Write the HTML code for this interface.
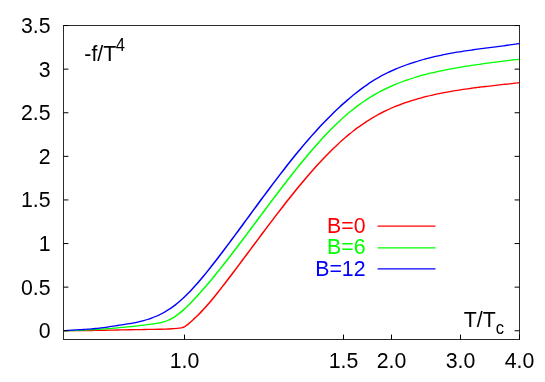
<!DOCTYPE html><html><head><meta charset="utf-8"><style>html,body{margin:0;padding:0;background:#fff}svg{display:block;will-change:transform}text{font-family:"Liberation Sans",sans-serif;}</style></head><body>
<svg width="545" height="382" viewBox="0 0 545 382">
<rect width="545" height="382" fill="#fff"/>
<path transform="scale(1 0.78)" d="M63.50 423.93C64.50 423.94 67.50 423.96 69.50 423.96C71.50 423.97 73.50 423.96 75.50 423.95C77.50 423.94 79.50 423.92 81.50 423.89C83.50 423.87 85.50 423.84 87.50 423.80C89.50 423.77 91.50 423.73 93.50 423.69C95.50 423.65 97.50 423.60 99.50 423.55C101.50 423.50 103.50 423.45 105.50 423.40C107.50 423.35 109.50 423.29 111.50 423.24C113.50 423.18 115.50 423.13 117.50 423.07C119.50 423.02 121.50 422.96 123.50 422.91C125.50 422.86 127.50 422.80 129.50 422.76C131.50 422.71 133.50 422.66 135.50 422.62C137.50 422.57 139.50 422.54 141.50 422.50C143.50 422.46 145.50 422.43 147.50 422.39C149.50 422.36 151.50 422.32 153.50 422.27C155.50 422.22 157.50 422.17 159.50 422.10C161.50 422.03 163.50 421.95 165.50 421.84C167.50 421.73 169.50 421.61 171.50 421.46C173.50 421.31 176.25 421.04 177.50 420.92C178.75 420.81 178.61 420.81 179.00 420.76C179.39 420.71 179.59 420.69 179.87 420.64C180.15 420.60 180.42 420.55 180.68 420.50C180.95 420.44 181.20 420.38 181.45 420.31C181.70 420.24 181.94 420.17 182.18 420.08C182.42 420.00 182.66 419.90 182.89 419.80C183.12 419.70 183.35 419.59 183.57 419.47C183.80 419.35 184.02 419.21 184.25 419.07C184.48 418.93 184.70 418.77 184.93 418.61C185.15 418.44 185.38 418.26 185.61 418.07C185.84 417.88 186.08 417.68 186.32 417.46C186.56 417.24 186.80 417.01 187.05 416.76C187.30 416.51 187.55 416.25 187.82 415.97C188.08 415.69 188.35 415.39 188.63 415.08C188.91 414.77 188.69 415.04 189.50 414.09C190.31 413.15 192.17 411.00 193.50 409.41C194.83 407.82 196.17 406.22 197.50 404.54C198.83 402.86 200.17 401.14 201.50 399.35C202.83 397.56 204.17 395.71 205.50 393.80C206.83 391.90 208.17 389.94 209.50 387.93C210.83 385.93 212.17 383.88 213.50 381.80C214.83 379.72 216.17 377.59 217.50 375.44C218.83 373.30 220.17 371.12 221.50 368.93C222.83 366.73 224.17 364.52 225.50 362.29C226.83 360.07 228.17 357.84 229.50 355.59C230.83 353.35 232.17 351.09 233.50 348.83C234.83 346.57 236.17 344.30 237.50 342.03C238.83 339.76 240.17 337.47 241.50 335.19C242.83 332.91 244.17 330.62 245.50 328.33C246.83 326.03 248.17 323.74 249.50 321.44C250.83 319.15 252.17 316.85 253.50 314.56C254.83 312.26 256.17 309.97 257.50 307.68C258.83 305.39 260.17 303.09 261.50 300.81C262.83 298.53 264.17 296.24 265.50 293.97C266.83 291.69 268.17 289.42 269.50 287.16C270.83 284.90 272.17 282.65 273.50 280.40C274.83 278.16 276.17 275.92 277.50 273.69C278.83 271.47 280.17 269.25 281.50 267.05C282.83 264.84 284.17 262.65 285.50 260.47C286.83 258.30 288.17 256.13 289.50 253.98C290.83 251.83 292.17 249.69 293.50 247.57C294.83 245.46 296.17 243.35 297.50 241.27C298.83 239.18 300.17 237.11 301.50 235.06C302.83 233.01 304.17 230.98 305.50 228.97C306.83 226.96 308.17 224.97 309.50 223.01C310.83 221.04 312.17 219.09 313.50 217.17C314.83 215.25 316.17 213.35 317.50 211.48C318.83 209.60 320.17 207.75 321.50 205.93C322.83 204.11 324.17 202.31 325.50 200.54C326.83 198.77 328.17 197.03 329.50 195.31C330.83 193.60 332.17 191.91 333.50 190.26C334.83 188.60 336.17 186.97 337.50 185.38C338.83 183.78 340.17 182.21 341.50 180.68C342.83 179.15 344.17 177.64 345.50 176.18C346.83 174.71 348.17 173.27 349.50 171.87C350.83 170.47 352.17 169.10 353.50 167.77C354.83 166.44 356.17 165.14 357.50 163.88C358.83 162.62 360.17 161.39 361.50 160.20C362.83 159.01 364.17 157.85 365.50 156.72C366.83 155.60 368.17 154.50 369.50 153.44C370.83 152.38 372.17 151.35 373.50 150.35C374.83 149.35 376.17 148.39 377.50 147.45C378.83 146.51 380.17 145.60 381.50 144.72C382.83 143.84 384.17 142.99 385.50 142.16C386.83 141.33 388.17 140.54 389.50 139.76C390.83 138.99 392.17 138.24 393.50 137.52C394.83 136.80 396.17 136.10 397.50 135.42C398.83 134.75 400.17 134.09 401.50 133.46C402.83 132.83 404.17 132.22 405.50 131.62C406.83 131.03 408.17 130.46 409.50 129.90C410.83 129.35 412.17 128.81 413.50 128.29C414.83 127.77 416.17 127.27 417.50 126.78C418.83 126.29 420.17 125.82 421.50 125.36C422.83 124.90 424.17 124.45 425.50 124.02C426.83 123.59 428.17 123.17 429.50 122.76C430.83 122.35 432.17 121.95 433.50 121.57C434.83 121.19 436.17 120.81 437.50 120.45C438.83 120.09 440.17 119.74 441.50 119.40C442.83 119.06 444.17 118.73 445.50 118.41C446.83 118.08 448.17 117.77 449.50 117.47C450.83 117.17 452.17 116.87 453.50 116.59C454.83 116.30 456.17 116.02 457.50 115.75C458.83 115.48 460.17 115.22 461.50 114.96C462.83 114.70 464.17 114.45 465.50 114.21C466.83 113.96 468.17 113.72 469.50 113.49C470.83 113.26 472.17 113.03 473.50 112.80C474.83 112.58 476.17 112.36 477.50 112.15C478.83 111.93 480.17 111.72 481.50 111.51C482.83 111.30 484.17 111.10 485.50 110.90C486.83 110.70 488.17 110.50 489.50 110.30C490.83 110.11 492.17 109.91 493.50 109.72C494.83 109.53 496.17 109.34 497.50 109.15C498.83 108.96 500.17 108.77 501.50 108.58C502.83 108.40 504.17 108.21 505.50 108.02C506.83 107.83 508.17 107.65 509.50 107.46C510.83 107.27 512.17 107.08 513.50 106.89C514.83 106.70 516.50 106.46 517.50 106.32C518.50 106.17 519.17 106.07 519.50 106.02" fill="none" stroke="#ff0000" stroke-width="1.65" stroke-linejoin="round"/>
<path transform="scale(1 0.78)" d="M63.50 423.95C64.17 423.94 66.17 423.92 67.50 423.89C68.83 423.86 70.17 423.83 71.50 423.79C72.83 423.75 74.17 423.70 75.50 423.64C76.83 423.59 78.17 423.53 79.50 423.46C80.83 423.40 82.17 423.33 83.50 423.25C84.83 423.17 86.17 423.09 87.50 423.00C88.83 422.92 90.17 422.83 91.50 422.73C92.83 422.64 94.17 422.54 95.50 422.43C96.83 422.33 98.17 422.22 99.50 422.11C100.83 422.00 102.17 421.88 103.50 421.77C104.83 421.65 106.17 421.52 107.50 421.39C108.83 421.27 110.17 421.13 111.50 421.00C112.83 420.86 114.17 420.72 115.50 420.57C116.83 420.42 118.17 420.27 119.50 420.11C120.83 419.96 122.17 419.80 123.50 419.63C124.83 419.46 126.17 419.29 127.50 419.12C128.83 418.94 130.17 418.76 131.50 418.58C132.83 418.39 134.17 418.21 135.50 418.02C136.83 417.83 138.17 417.63 139.50 417.43C140.83 417.24 142.17 417.03 143.50 416.83C144.83 416.63 146.17 416.42 147.50 416.21C148.83 416.01 150.17 415.80 151.50 415.58C152.83 415.36 154.17 415.15 155.50 414.88C156.83 414.61 158.17 414.33 159.50 413.96C160.83 413.60 162.17 413.20 163.50 412.69C164.83 412.19 166.17 411.63 167.50 410.93C168.83 410.24 170.17 409.45 171.50 408.53C172.83 407.60 174.17 406.54 175.50 405.37C176.83 404.20 178.17 402.90 179.50 401.53C180.83 400.16 182.17 398.67 183.50 397.14C184.83 395.61 186.17 394.00 187.50 392.35C188.83 390.69 190.17 388.98 191.50 387.23C192.83 385.49 194.17 383.69 195.50 381.85C196.83 380.02 198.17 378.15 199.50 376.25C200.83 374.35 202.17 372.42 203.50 370.46C204.83 368.50 206.17 366.51 207.50 364.50C208.83 362.49 210.17 360.46 211.50 358.40C212.83 356.34 214.17 354.26 215.50 352.16C216.83 350.06 218.17 347.94 219.50 345.80C220.83 343.66 222.17 341.51 223.50 339.34C224.83 337.17 226.17 334.98 227.50 332.78C228.83 330.59 230.17 328.38 231.50 326.15C232.83 323.93 234.17 321.70 235.50 319.46C236.83 317.22 238.17 314.96 239.50 312.70C240.83 310.45 242.17 308.18 243.50 305.90C244.83 303.63 246.17 301.35 247.50 299.07C248.83 296.79 250.17 294.50 251.50 292.21C252.83 289.92 254.17 287.62 255.50 285.33C256.83 283.04 258.17 280.74 259.50 278.45C260.83 276.16 262.17 273.86 263.50 271.57C264.83 269.28 266.17 267.00 267.50 264.71C268.83 262.43 270.17 260.15 271.50 257.88C272.83 255.61 274.17 253.34 275.50 251.08C276.83 248.82 278.17 246.57 279.50 244.33C280.83 242.08 282.17 239.85 283.50 237.63C284.83 235.41 286.17 233.20 287.50 231.00C288.83 228.80 290.17 226.61 291.50 224.44C292.83 222.27 294.17 220.11 295.50 217.97C296.83 215.83 298.17 213.71 299.50 211.60C300.83 209.49 302.17 207.40 303.50 205.33C304.83 203.26 306.17 201.21 307.50 199.18C308.83 197.14 310.17 195.13 311.50 193.15C312.83 191.16 314.17 189.19 315.50 187.25C316.83 185.31 318.17 183.40 319.50 181.51C320.83 179.61 322.17 177.75 323.50 175.91C324.83 174.07 326.17 172.26 327.50 170.48C328.83 168.70 330.17 166.95 331.50 165.22C332.83 163.50 334.17 161.81 335.50 160.15C336.83 158.48 338.17 156.85 339.50 155.26C340.83 153.66 342.17 152.09 343.50 150.56C344.83 149.03 346.17 147.54 347.50 146.07C348.83 144.61 350.17 143.19 351.50 141.80C352.83 140.41 354.17 139.06 355.50 137.75C356.83 136.43 358.17 135.16 359.50 133.92C360.83 132.68 362.17 131.48 363.50 130.31C364.83 129.14 366.17 128.01 367.50 126.91C368.83 125.81 370.17 124.74 371.50 123.70C372.83 122.67 374.17 121.67 375.50 120.69C376.83 119.72 378.17 118.77 379.50 117.86C380.83 116.94 382.17 116.06 383.50 115.20C384.83 114.34 386.17 113.50 387.50 112.70C388.83 111.89 390.17 111.11 391.50 110.35C392.83 109.59 394.17 108.85 395.50 108.14C396.83 107.43 398.17 106.74 399.50 106.08C400.83 105.41 402.17 104.76 403.50 104.14C404.83 103.51 406.17 102.91 407.50 102.32C408.83 101.73 410.17 101.16 411.50 100.61C412.83 100.06 414.17 99.53 415.50 99.01C416.83 98.50 418.17 98.00 419.50 97.51C420.83 97.02 422.17 96.55 423.50 96.09C424.83 95.64 426.17 95.19 427.50 94.76C428.83 94.33 430.17 93.91 431.50 93.51C432.83 93.10 434.17 92.70 435.50 92.32C436.83 91.94 438.17 91.57 439.50 91.20C440.83 90.84 442.17 90.49 443.50 90.14C444.83 89.80 446.17 89.46 447.50 89.14C448.83 88.81 450.17 88.49 451.50 88.18C452.83 87.87 454.17 87.56 455.50 87.27C456.83 86.97 458.17 86.68 459.50 86.39C460.83 86.10 462.17 85.82 463.50 85.54C464.83 85.26 466.17 84.99 467.50 84.72C468.83 84.45 470.17 84.19 471.50 83.92C472.83 83.66 474.17 83.40 475.50 83.15C476.83 82.89 478.17 82.64 479.50 82.40C480.83 82.15 482.17 81.91 483.50 81.67C484.83 81.43 486.17 81.19 487.50 80.96C488.83 80.72 490.17 80.50 491.50 80.27C492.83 80.04 494.17 79.82 495.50 79.60C496.83 79.38 498.17 79.17 499.50 78.96C500.83 78.74 502.17 78.54 503.50 78.33C504.83 78.13 506.17 77.92 507.50 77.72C508.83 77.53 510.17 77.33 511.50 77.14C512.83 76.94 514.17 76.76 515.50 76.57C516.83 76.38 518.83 76.11 519.50 76.02" fill="none" stroke="#00ff00" stroke-width="1.65" stroke-linejoin="round"/>
<path transform="scale(1 0.78)" d="M63.50 423.99C64.17 423.93 66.17 423.76 67.50 423.65C68.83 423.54 70.17 423.44 71.50 423.34C72.83 423.24 74.17 423.14 75.50 423.04C76.83 422.94 78.17 422.84 79.50 422.74C80.83 422.64 82.17 422.53 83.50 422.42C84.83 422.31 86.17 422.19 87.50 422.06C88.83 421.93 90.17 421.80 91.50 421.65C92.83 421.50 94.17 421.34 95.50 421.16C96.83 420.99 98.17 420.79 99.50 420.59C100.83 420.39 102.17 420.17 103.50 419.95C104.83 419.72 106.17 419.49 107.50 419.25C108.83 419.01 110.17 418.76 111.50 418.51C112.83 418.25 114.17 417.99 115.50 417.73C116.83 417.48 118.17 417.21 119.50 416.95C120.83 416.69 122.17 416.43 123.50 416.16C124.83 415.90 126.17 415.63 127.50 415.35C128.83 415.07 130.17 414.78 131.50 414.47C132.83 414.16 134.17 413.84 135.50 413.49C136.83 413.14 138.17 412.78 139.50 412.37C140.83 411.97 142.17 411.55 143.50 411.09C144.83 410.62 146.17 410.13 147.50 409.59C148.83 409.05 150.17 408.48 151.50 407.85C152.83 407.22 154.17 406.55 155.50 405.83C156.83 405.11 158.17 404.34 159.50 403.51C160.83 402.68 162.17 401.80 163.50 400.85C164.83 399.91 166.17 398.90 167.50 397.83C168.83 396.76 170.17 395.63 171.50 394.43C172.83 393.22 174.17 391.95 175.50 390.61C176.83 389.27 178.17 387.86 179.50 386.40C180.83 384.93 182.17 383.39 183.50 381.80C184.83 380.21 186.17 378.56 187.50 376.85C188.83 375.14 190.17 373.38 191.50 371.56C192.83 369.75 194.17 367.88 195.50 365.97C196.83 364.06 198.17 362.10 199.50 360.11C200.83 358.12 202.17 356.08 203.50 354.01C204.83 351.95 206.17 349.85 207.50 347.72C208.83 345.60 210.17 343.44 211.50 341.27C212.83 339.10 214.17 336.90 215.50 334.69C216.83 332.49 218.17 330.26 219.50 328.03C220.83 325.79 222.17 323.54 223.50 321.28C224.83 319.02 226.17 316.75 227.50 314.47C228.83 312.19 230.17 309.89 231.50 307.60C232.83 305.30 234.17 302.99 235.50 300.68C236.83 298.37 238.17 296.05 239.50 293.73C240.83 291.41 242.17 289.08 243.50 286.75C244.83 284.43 246.17 282.09 247.50 279.76C248.83 277.44 250.17 275.10 251.50 272.77C252.83 270.45 254.17 268.12 255.50 265.79C256.83 263.47 258.17 261.15 259.50 258.83C260.83 256.52 262.17 254.21 263.50 251.90C264.83 249.60 266.17 247.30 267.50 245.01C268.83 242.73 270.17 240.44 271.50 238.17C272.83 235.90 274.17 233.64 275.50 231.39C276.83 229.14 278.17 226.90 279.50 224.67C280.83 222.45 282.17 220.23 283.50 218.03C284.83 215.83 286.17 213.64 287.50 211.47C288.83 209.30 290.17 207.14 291.50 205.00C292.83 202.86 294.17 200.74 295.50 198.64C296.83 196.53 298.17 194.45 299.50 192.38C300.83 190.31 302.17 188.27 303.50 186.24C304.83 184.21 306.17 182.21 307.50 180.23C308.83 178.25 310.17 176.29 311.50 174.35C312.83 172.42 314.17 170.50 315.50 168.61C316.83 166.73 318.17 164.86 319.50 163.02C320.83 161.18 322.17 159.37 323.50 157.58C324.83 155.79 326.17 154.03 327.50 152.29C328.83 150.55 330.17 148.83 331.50 147.15C332.83 145.46 334.17 143.80 335.50 142.16C336.83 140.52 338.17 138.91 339.50 137.33C340.83 135.75 342.17 134.19 343.50 132.67C344.83 131.14 346.17 129.64 347.50 128.16C348.83 126.69 350.17 125.24 351.50 123.83C352.83 122.41 354.17 121.03 355.50 119.67C356.83 118.31 358.17 116.99 359.50 115.69C360.83 114.40 362.17 113.13 363.50 111.90C364.83 110.67 366.17 109.47 367.50 108.30C368.83 107.14 370.17 106.01 371.50 104.91C372.83 103.81 374.17 102.75 375.50 101.72C376.83 100.69 378.17 99.70 379.50 98.74C380.83 97.78 382.17 96.85 383.50 95.95C384.83 95.06 386.17 94.19 387.50 93.36C388.83 92.52 390.17 91.71 391.50 90.93C392.83 90.15 394.17 89.40 395.50 88.67C396.83 87.94 398.17 87.23 399.50 86.55C400.83 85.86 402.17 85.21 403.50 84.57C404.83 83.93 406.17 83.31 407.50 82.71C408.83 82.10 410.17 81.52 411.50 80.96C412.83 80.39 414.17 79.84 415.50 79.31C416.83 78.77 418.17 78.26 419.50 77.75C420.83 77.25 422.17 76.76 423.50 76.29C424.83 75.82 426.17 75.36 427.50 74.91C428.83 74.47 430.17 74.04 431.50 73.62C432.83 73.20 434.17 72.79 435.50 72.40C436.83 72.01 438.17 71.62 439.50 71.25C440.83 70.88 442.17 70.52 443.50 70.17C444.83 69.83 446.17 69.49 447.50 69.16C448.83 68.83 450.17 68.51 451.50 68.20C452.83 67.89 454.17 67.59 455.50 67.30C456.83 67.01 458.17 66.72 459.50 66.44C460.83 66.17 462.17 65.90 463.50 65.63C464.83 65.37 466.17 65.11 467.50 64.86C468.83 64.61 470.17 64.36 471.50 64.12C472.83 63.88 474.17 63.64 475.50 63.41C476.83 63.18 478.17 62.95 479.50 62.72C480.83 62.49 482.17 62.27 483.50 62.05C484.83 61.82 486.17 61.60 487.50 61.38C488.83 61.16 490.17 60.94 491.50 60.72C492.83 60.50 494.17 60.29 495.50 60.06C496.83 59.84 498.17 59.62 499.50 59.40C500.83 59.17 502.17 58.95 503.50 58.72C504.83 58.49 506.17 58.26 507.50 58.02C508.83 57.79 510.17 57.55 511.50 57.30C512.83 57.06 514.17 56.81 515.50 56.55C516.83 56.30 518.83 55.90 519.50 55.77" fill="none" stroke="#0000ff" stroke-width="1.65" stroke-linejoin="round"/>
<rect x="63.5" y="25.5" width="456.0" height="314.0" fill="none" stroke="#2b2b2b" stroke-width="1"/>
<path d="M63.5 330.75h4.9M519.5 330.75h-4.9M63.5 287.15h4.9M519.5 287.15h-4.9M63.5 243.55h4.9M519.5 243.55h-4.9M63.5 199.95h4.9M519.5 199.95h-4.9M63.5 156.35h4.9M519.5 156.35h-4.9M63.5 112.75h4.9M519.5 112.75h-4.9M63.5 69.15h4.9M519.5 69.15h-4.9M63.5 25.55h4.9M519.5 25.55h-4.9M184.5 339.5v-4.9M343.5 339.5v-4.9M391.5 339.5v-4.9M460.5 339.5v-4.9M519.5 339.5v-4.9" stroke="#000" stroke-width="1" fill="none"/>
<text transform="translate(50.60 338.15) scale(1 1.050)" font-size="21.3" text-anchor="end" fill="#000">0</text>
<text transform="translate(50.60 294.55) scale(1 1.050)" font-size="21.3" text-anchor="end" fill="#000">0.5</text>
<text transform="translate(50.60 250.95) scale(1 1.050)" font-size="21.3" text-anchor="end" fill="#000">1</text>
<text transform="translate(50.60 207.35) scale(1 1.050)" font-size="21.3" text-anchor="end" fill="#000">1.5</text>
<text transform="translate(50.60 163.75) scale(1 1.050)" font-size="21.3" text-anchor="end" fill="#000">2</text>
<text transform="translate(50.60 120.15) scale(1 1.050)" font-size="21.3" text-anchor="end" fill="#000">2.5</text>
<text transform="translate(50.60 76.55) scale(1 1.050)" font-size="21.3" text-anchor="end" fill="#000">3</text>
<text transform="translate(50.60 32.95) scale(1 1.050)" font-size="21.3" text-anchor="end" fill="#000">3.5</text>
<text transform="translate(184.50 368.00) scale(1 1.050)" font-size="21.3" text-anchor="middle" fill="#000">1.0</text>
<text transform="translate(343.50 368.00) scale(1 1.050)" font-size="21.3" text-anchor="middle" fill="#000">1.5</text>
<text transform="translate(391.50 368.00) scale(1 1.050)" font-size="21.3" text-anchor="middle" fill="#000">2.0</text>
<text transform="translate(460.50 368.00) scale(1 1.050)" font-size="21.3" text-anchor="middle" fill="#000">3.0</text>
<text transform="translate(519.50 368.00) scale(1 1.050)" font-size="21.3" text-anchor="middle" fill="#000">4.0</text>
<text transform="translate(84.30 60.80) scale(1 1.050)" font-size="21.3" text-anchor="start" fill="#000">-f/T<tspan dx="-0.5" dy="-9.6" font-size="16.6">4</tspan></text>
<text transform="translate(463.80 327.00) scale(1 1.050)" font-size="21.3" text-anchor="start" fill="#000">T/T<tspan dy="6.3" font-size="16.6">c</tspan></text>
<text transform="translate(365.50 233.00) scale(1 1.050)" font-size="21.3" text-anchor="end" fill="#ff0000">B=0</text>
<path d="M377.6 226.1H435.5" stroke="#ff0000" stroke-width="1.3"/>
<text transform="translate(365.50 254.20) scale(1 1.050)" font-size="21.3" text-anchor="end" fill="#00ff00">B=6</text>
<path d="M377.6 247.8H435.5" stroke="#00ff00" stroke-width="1.3"/>
<text transform="translate(365.50 275.70) scale(1 1.050)" font-size="21.3" text-anchor="end" fill="#0000ff">B=12</text>
<path d="M377.6 268.8H435.5" stroke="#0000ff" stroke-width="1.3"/>
</svg></body></html>
